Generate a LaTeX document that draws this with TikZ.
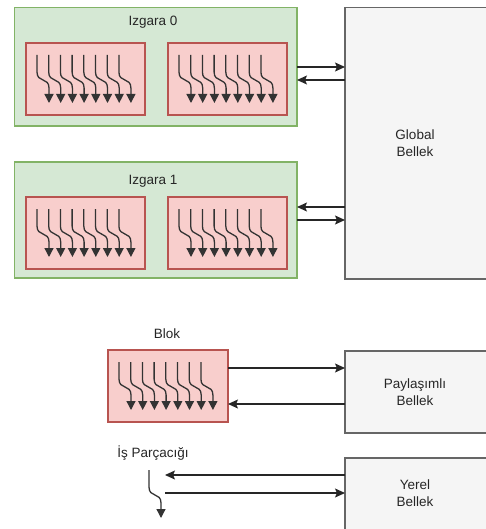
\documentclass[tikz,border=0pt]{standalone}
\usepackage{fontspec}
\setmainfont{Liberation Sans}
\usetikzlibrary{arrows.meta}
\definecolor{gfill}{HTML}{D5E8D4}
\definecolor{gline}{HTML}{82B366}
\definecolor{pfill}{HTML}{F8CECC}
\definecolor{pline}{HTML}{B85450}
\definecolor{mfill}{HTML}{F5F5F5}
\definecolor{mline}{HTML}{666666}
\begin{document}
\begin{tikzpicture}[x=1pt,y=-1pt,
  every node/.style={font=\fontsize{13.5}{16.5}\selectfont, inner sep=0pt, outer sep=0pt, text=black!85},
  gridbox/.style={draw=gline, fill=gfill, line width=1.1pt},
  blockbox/.style={draw=pline, fill=pfill, line width=1.1pt},
  membox/.style={draw=mline, fill=mfill, line width=1.1pt, align=center},
  conn/.style={line width=1.2pt, draw=black!85, -{Stealth[length=10pt,width=9pt,inset=2pt]}},
  thr/.style={line width=1.3pt, draw=black!80, -{Triangle[length=9pt,width=9pt]}},
  pics/thread/.style={code={
    \draw[thr] (0,0) -- (0,17) .. controls (0,28) and (12,22) .. (12,33) -- (12,48);
  }},
  pics/threads/.style={code={
    \foreach \i in {0,...,7} {\pic at ({11+\i*11.7},12) {thread};}
  }}]
\useasboundingbox (0,0) rectangle (485,529);

% Global memory
\path[membox] (345,7.5) rectangle (490,279);
\node[align=center] (glob) at (415,143) {Global\\Bellek};
\coordinate (globW) at (345,143);

% Grid 0
\path[gridbox] (14.5,7.5) rectangle (297,126);
\coordinate (g0E) at (297,67);
\node (g0lab) at (153,22) {Izgara 0};
\path[blockbox] (26,43) rectangle (145,115);
\pic at (26,43) {threads};
\path[blockbox] (168,43) rectangle (287,115);
\pic at (168,43) {threads};

% Grid 1
\path[gridbox] (14.5,162) rectangle (297,278);
\coordinate (g1E) at (297,213);
\node (g1lab) at (153,181) {Izgara 1};
\path[blockbox] (26,197) rectangle (145,269);
\pic at (26,197) {threads};
\path[blockbox] (168,197) rectangle (287,269);
\pic at (168,197) {threads};

% arrows grid <-> global
\draw[conn] (g0E |- 0,67) -- (globW |- 0,67);
\draw[conn] (globW |- 0,80) -- (g0E |- 0,80);
\draw[conn] (globW |- 0,207) -- (g1E |- 0,207);
\draw[conn] (g1E |- 0,220) -- (globW |- 0,220);

% Block
\node (bloklab) at (167,334) {Blok};
\path[blockbox] (108,350) rectangle (228,422);
\coordinate (blkE) at (228,386);
\pic at (108,350) {threads};

% Shared memory
\path[membox] (345,351) rectangle (490,433);
\node[align=center] (shared) at (415,392) {Paylaşımlı\\Bellek};
\coordinate (shW) at (345,392);
\draw[conn] (blkE |- 0,368) -- (shW |- 0,368);
\draw[conn] (shW |- 0,404) -- (blkE |- 0,404);

% Thread
\node (thlab) at (153,453) {İş Parçacığı};
\pic at (149,470) {thread};
\coordinate (thE) at (165,484);

% Local memory
\path[membox] (345,458) rectangle (490,535);
\node[align=center] (local) at (415,493) {Yerel\\Bellek};
\coordinate (loW) at (345,484);
\draw[conn] (loW |- 0,475) -- (thE |- 0,475);
\draw[conn] (thE |- 0,493) -- (loW |- 0,493);
\end{tikzpicture}
\end{document}
